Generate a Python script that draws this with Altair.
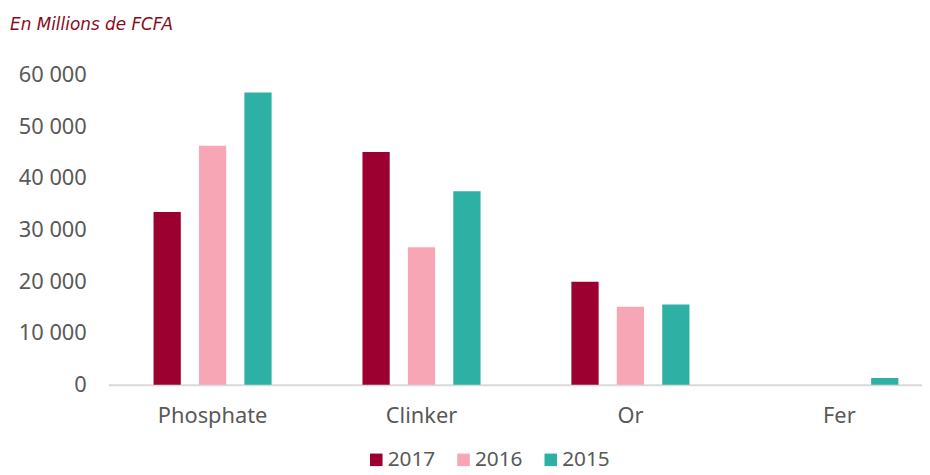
import altair as alt
import pandas as pd

categories = ["Phosphate", "Clinker", "Or", "Fer"]
years = ["2017", "2016", "2015"]
v2017 = [33400, 45000, 19900, 0]
v2016 = [46200, 26600, 15100, 0]
v2015 = [56500, 37400, 15500, 1300]
colors = ["#9B0031", "#F7A6B5", "#2EB1A4"]
y_ticks = [0, 10000, 20000, 30000, 40000, 50000, 60000]

rows = []
for yr, vals in zip(years, [v2017, v2016, v2015]):
    for c, v in zip(categories, vals):
        rows.append({"Produit": c, "Année": yr, "Valeur": v})
df = pd.DataFrame(rows)

FONT = "Noto Sans"
GREY = "#595959"

chart = (
    alt.Chart(df)
    .mark_bar()
    .encode(
        x=alt.X(
            "Produit:N",
            sort=categories,
            scale=alt.Scale(range=[0, 843], paddingInner=0, paddingOuter=0),
            axis=alt.Axis(
                title=None,
                labelAngle=0,
                labelFont=FONT,
                labelFontSize=22,
                labelColor=GREY,
                labelPadding=21,
                ticks=False,
                domainColor="#D9D9D9",
                domainWidth=2,
                grid=False,
            ),
        ),
        xOffset=alt.XOffset(
            "Année:N",
            sort=years,
            scale=alt.Scale(paddingInner=0.4, paddingOuter=1),
        ),
        y=alt.Y(
            "Valeur:Q",
            scale=alt.Scale(domain=[0, 60000], nice=False),
            axis=alt.Axis(
                title=None,
                values=y_ticks,
                labelExpr="datum.value == 0 ? '0' : format(datum.value / 1000, 'd') + ' 000'",
                labelFont=FONT,
                labelFontSize=22,
                labelColor=GREY,
                labelPadding=22,
                ticks=False,
                domain=False,
                grid=False,
            ),
        ),
        color=alt.Color(
            "Année:N",
            sort=years,
            scale=alt.Scale(domain=years, range=colors),
            legend=alt.Legend(
                title=None,
                orient="none",
                direction="horizontal",
                legendX=260,
                legendY=378,
                symbolType="square",
                symbolSize=160,
                symbolStrokeWidth=0,
                labelFont=FONT,
                labelFontSize=21,
                labelColor=GREY,
                labelOffset=1,
                columnPadding=17,
                padding=0,
            ),
        ),
    )
    .properties(
        width=813,
        height=313,
        autosize=alt.AutoSizeParams(type="none"),
        padding={"left": 101, "top": 65, "right": 8, "bottom": 89},
        title=alt.TitleParams(
            "En Millions de FCFA",
            anchor="start",
            frame="group",
            font="DejaVu Sans",
            fontSize=17,
            fontStyle="italic",
            fontWeight="normal",
            color="#8B0A1A",
            dx=-99,
            offset=30,
        ),
    )
    .configure_view(stroke=None)
)

chart.save("out.html", embed_options={"renderer": "svg", "actions": False})
